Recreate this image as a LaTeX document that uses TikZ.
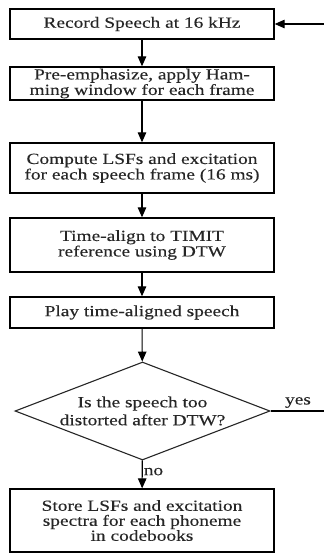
\documentclass[tikz,border=0pt]{standalone}
\usepackage{fontspec}
\setmainfont{Liberation Serif}[FakeStretch=1.25, FakeBold=0.2]
\usetikzlibrary{arrows.meta,shapes.geometric}

\tikzset{
  stepbox/.style={draw=black, line width=1.3pt, minimum width=264pt, inner sep=0pt,
    align=center, font=\fontsize{15.5}{15.5}\selectfont, text=black!85},
  decision/.style={diamond, draw=black!85, line width=1.1pt, aspect=2.6, inner sep=0pt,
    minimum width=255pt, minimum height=98pt, align=center,
    font=\fontsize{15.5}{18}\selectfont, text=black!85},
  flow/.style={draw=black, line width=1.1pt, -{Triangle[length=10pt,width=8.5pt]}},
  lbl/.style={font=\fontsize{15.5}{15.5}\selectfont, text=black!85, inner sep=1pt}
}

\begin{document}
\begin{tikzpicture}[x=1pt, y=-1pt]
  \useasboundingbox (0,0) rectangle (324,558);
  \clip (0,0) rectangle (324,558);
  \fill[white] (0,0) rectangle (324,558);

  % processing steps
  \node[stepbox, minimum height=30pt] (rec)   at (142,24)    {Record Speech at 16 kHz};
  \node[stepbox, minimum height=33pt] (pre)   at (142,83.5)  {Pre-emphasize, apply Ham-\\ming window for each frame};
  \node[stepbox, minimum height=50pt] (lsf)   at (142,168)   {Compute LSFs and excitation\\for each speech frame (16 ms)};
  \node[stepbox, minimum height=54pt] (align) at (142,245)   {Time-align to TIMIT\\reference using DTW};
  \node[stepbox, minimum height=31pt] (play)  at (142,312.5) {Play time-aligned speech};
  \node[decision] (dist) at (142.5,411) {Is the speech too\\distorted after DTW?};
  \node[stepbox, minimum height=63pt, font=\fontsize{15.5}{15}\selectfont] (store) at (142,520.5)
    {Store LSFs and excitation\\spectra for each phoneme\\in codebooks};

  % main flow
  \draw[flow] (rec)   -- (pre);
  \draw[flow] (pre)   -- (lsf);
  \draw[flow] (lsf)   -- (align);
  \draw[flow] (align) -- (play);
  \draw[flow] (play)  -- (dist);
  \draw[flow] (dist)  -- node[lbl, anchor=west, pos=0.4] (no) {no} (store);

  % loop back when the speech is too distorted (runs along the right margin)
  \coordinate (turn) at (332,411);
  \draw[flow] (dist.east) -- (turn) -- (turn |- rec.east) -- (rec.east);
  \node[lbl, anchor=south] (yes) at (298,409) {yes};
\end{tikzpicture}
\end{document}
